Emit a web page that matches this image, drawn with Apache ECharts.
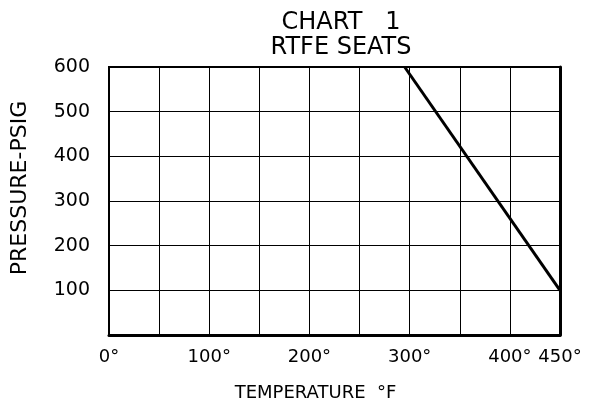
<!DOCTYPE html>
<html>
<head>
<meta charset="utf-8">
<script src="https://cdn.jsdelivr.net/npm/echarts@6/dist/echarts.min.js"></script>
<style>
html,body{margin:0;padding:0;background:#fff;}
#chart{width:592px;height:407px;}
</style>
</head>
<body>
<div id="chart"></div>
<script>
// Data
const titleLines = ['CHART   1', 'RTFE SEATS'];
const xAxisTitle = 'TEMPERATURE  \u00b0F';
const yAxisTitle = 'PRESSURE-PSIG';
const xLabelValues = [0, 100, 200, 300, 400, 450];
const yLabelValues = [100, 200, 300, 400, 500, 600];
const temperature = [295, 450];   // deg F
const pressure = [600, 100];      // psig

const FONT = 'DejaVu Sans';
const chart = echarts.init(document.getElementById('chart'));
const lineData = temperature.map((t, i) => [t, pressure[i]]);

chart.setOption({
  backgroundColor: '#fff',
  animation: false,
  title: {
    text: titleLines.join('\n'),
    left: 336,
    textAlign: 'center',
    top: 5,
    textStyle: { fontFamily: FONT, fontWeight: 'normal', fontSize: 24, lineHeight: 25, color: '#000' }
  },
  grid: {
    left: 109, right: 32, top: 67, bottom: 67,
    show: true, borderColor: '#000', borderWidth: 2, backgroundColor: 'transparent'
  },
  xAxis: {
    type: 'value',
    min: 0, max: 450, interval: 50,
    name: xAxisTitle,
    nameLocation: 'middle',
    nameGap: 49,
    nameTextStyle: { fontFamily: FONT, fontSize: 18, color: '#000', padding: [0, 38, 0, 0] },
    axisLine: { show: true, onZero: false, lineStyle: { color: '#000', width: 3 } },
    axisTick: { show: false },
    axisLabel: {
      fontFamily: FONT, fontSize: 18, color: '#000', margin: 13,
      showMinLabel: true, showMaxLabel: true,
      formatter: v => xLabelValues.includes(v) ? v + '\u00b0' : ''
    },
    splitLine: { show: true, lineStyle: { color: '#000', width: 1 } }
  },
  yAxis: [{
    type: 'value',
    min: 0, max: 600, interval: 100,
    name: yAxisTitle,
    nameLocation: 'middle',
    nameGap: 78,
    nameRotate: 90,
    nameTextStyle: { fontFamily: FONT, fontSize: 22, color: '#000', padding: [0, 0, 0, 26] },
    axisLine: { show: true, lineStyle: { color: '#000', width: 2 } },
    axisTick: { show: false },
    axisLabel: {
      fontFamily: FONT, fontSize: 19, color: '#000', margin: 19,
      formatter: v => yLabelValues.includes(v) ? String(v) : ''
    },
    splitLine: { show: true, lineStyle: { color: '#000', width: 1 } }
  }, {
    type: 'value',
    position: 'right',
    min: 0, max: 600, interval: 100,
    axisLine: { show: true, lineStyle: { color: '#000', width: 3 } },
    axisTick: { show: false },
    axisLabel: { show: false },
    splitLine: { show: false }
  }],
  series: [{
    type: 'line',
    data: lineData,
    showSymbol: false,
    symbol: 'none',
    lineStyle: { color: '#000', width: 3 },
    z: 5
  }]
});
</script>
</body>
</html>
